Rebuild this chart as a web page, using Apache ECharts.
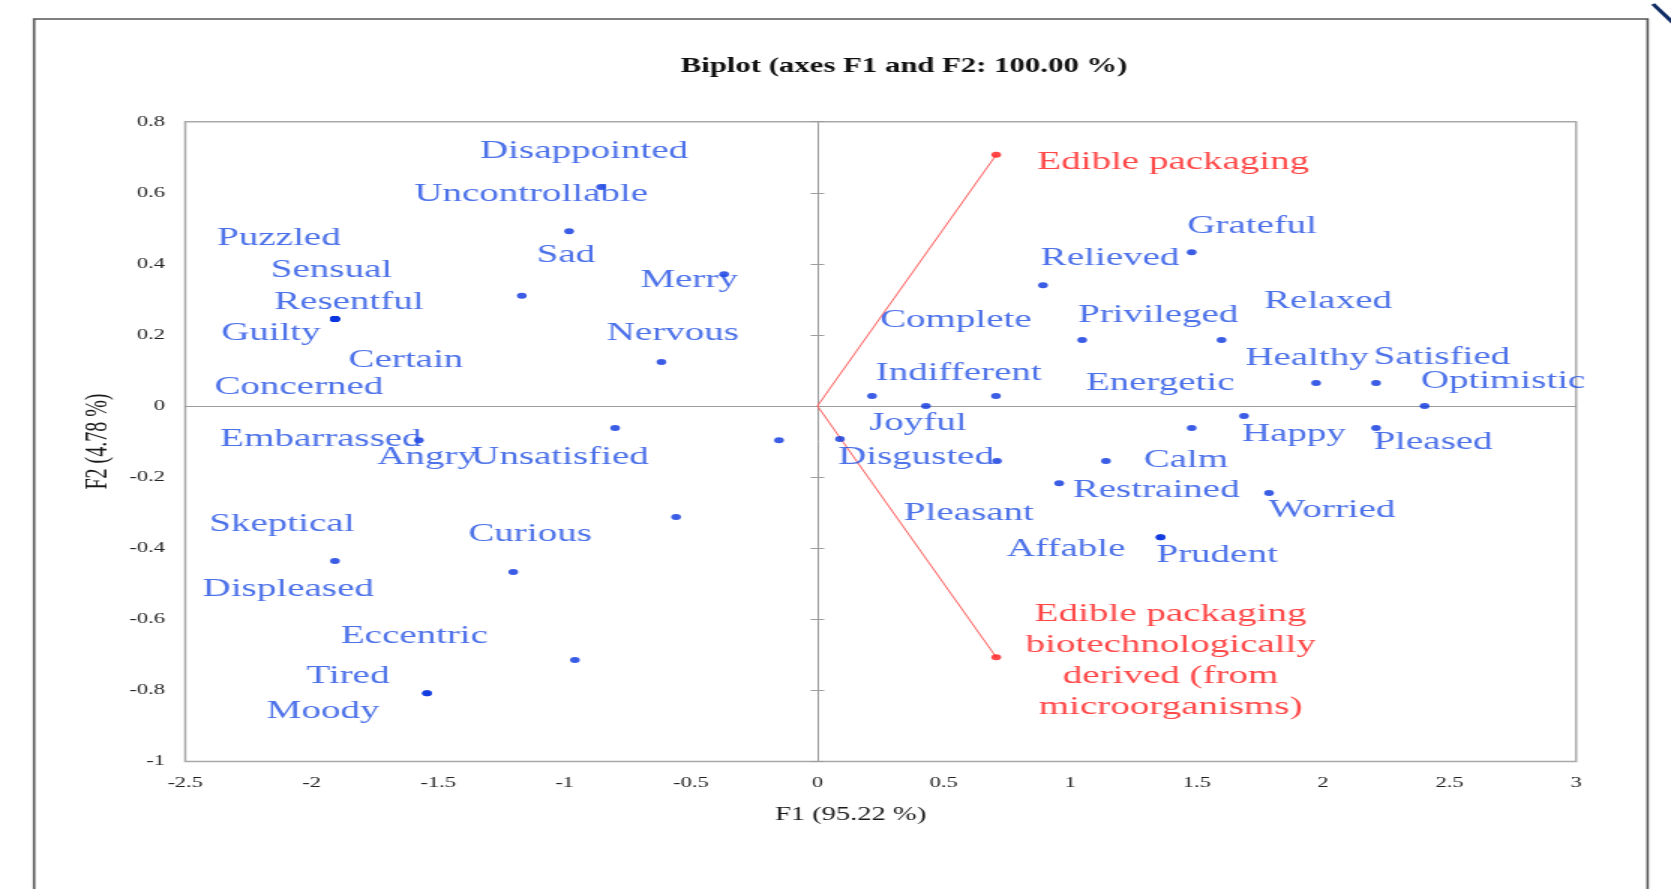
<!DOCTYPE html>
<html>
<head>
<meta charset="utf-8">
<script src="https://cdn.jsdelivr.net/npm/echarts@6/dist/echarts.min.js"></script>
<style>
  html, body { margin: 0; padding: 0; background: #ffffff; overflow: hidden; }
  #wrap { width: 1671px; height: 889px; overflow: hidden; position: relative; background: #fff; }
  /* the reference picture is stretched horizontally by about 1.5x */
  #chart { width: 1114px; height: 889px; transform: scaleX(1.5); transform-origin: 0 0; }
</style>
</head>
<body>
<div id="wrap"><div id="chart"></div></div>
<script>
// ---------------- DATA ----------------
const titleText = 'Biplot (axes F1 and F2: 100.00 %)';
const f1AxisName = 'F1 (95.22 %)';
const f2AxisName = 'F2 (4.78 %)';
const f1Min = -2.5, f1Max = 3, f1Step = 0.5;
const f2Min = -1, f2Max = 0.8, f2Step = 0.2;

const emotions = [
  'Disappointed', 'Uncontrollable', 'Sad', 'Merry', 'Puzzled', 'Sensual', 'Resentful',
  'Guilty', 'Certain', 'Concerned', 'Nervous', 'Embarrassed', 'Angry', 'Unsatisfied',
  'Curious', 'Skeptical', 'Displeased', 'Eccentric', 'Tired', 'Moody',
  'Disgusted', 'Indifferent', 'Joyful', 'Complete', 'Pleasant', 'Relieved', 'Grateful',
  'Privileged', 'Relaxed', 'Healthy', 'Satisfied', 'Optimistic', 'Happy', 'Energetic',
  'Pleased', 'Calm', 'Restrained', 'Worried', 'Prudent', 'Affable'
];
const emotionF1 = [
  -0.856, -0.982, -1.169, -0.369, -1.908, -1.908, -1.908,
  -1.908, -1.908, -1.908, -0.617, -1.576, -0.800, -0.152,
  -0.559, -1.908, -1.203, -0.959, -1.544, -1.544,
  0.089, 0.216, 0.429, 0.706, 0.710, 0.892, 1.480,
  1.047, 1.598, 1.972, 2.209, 2.401, 1.687, 1.480,
  2.209, 1.141, 0.956, 1.786, 1.357, 1.357
];
const emotionF2 = [
  0.616, 0.492, 0.310, 0.371, 0.245, 0.245, 0.245,
  0.245, 0.245, 0.245, 0.124, -0.096, -0.062, -0.096,
  -0.312, -0.436, -0.467, -0.715, -0.808, -0.808,
  -0.093, 0.028, 0.000, 0.028, -0.155, 0.340, 0.433,
  0.186, 0.186, 0.065, 0.065, 0.000, -0.028, -0.062,
  -0.062, -0.155, -0.217, -0.245, -0.369, -0.369
];

const products = ['Edible packaging', 'Edible packaging\nbiotechnologically\nderived (from\nmicroorganisms)'];
const productF1 = [0.707, 0.707];
const productF2 = [0.707, -0.707];

// ---------------- LAYOUT (label offsets in px, not data) ----------------
const emotionLabelOffsets = [
  [-11.3, -36], [-25.3, -37], [29.3, -41], [-23.3, 6], [-37.3, -81], [-2.3, -49], [9.3, -17],
  [-42.7, 14], [47.3, 41], [-24, 68], [7.7, -29], [-65.3, -1], [-125.3, 29], [-146, 17],
  [-97.3, 17], [-35.3, -37], [-150, 17], [-107, -24], [-52.7, -17], [-69.3, 18],
  [50.7, 18], [57.7, -23], [-5.3, 17], [-26.7, -76], [-18.7, 52], [44.7, -27], [40.3, -26],
  [50.7, -25], [71, -39], [-6, -25], [44, -26], [52.3, -25], [33.3, 18], [-21, -45],
  [38, 14], [53.3, -1], [64.7, 7], [42, 17], [37.7, 18], [-63, 12]
];
const productLabelOffsets = [[118, 7], [116.3, 3.5]];

// ---------------- CHART ----------------
const FONT = "'Liberation Serif', 'Times New Roman', serif";
const BLUE_TEXT = '#214fe4';
const BLUE_DOT = '#0a34de';
const RED = '#ff1a1a';
const GRAY = '#9c9c9c';

const chart = echarts.init(document.getElementById('chart'), null, { renderer: 'canvas' });

const emotionData = emotions.map((n, i) => ({
  name: n,
  value: [emotionF1[i], emotionF2[i]],
  label: { offset: emotionLabelOffsets[i] }
}));
const productData = products.map((n, i) => ({
  name: n,
  value: [productF1[i], productF2[i]],
  label: { offset: productLabelOffsets[i] }
}));
const vectorSeries = products.map((n, i) => ({
  type: 'line',
  xAxisIndex: 0, yAxisIndex: 0,
  data: [[0, 0], [productF1[i], productF2[i]]],
  symbol: 'none',
  silent: true,
  animation: false,
  lineStyle: { color: '#ff5c5c', width: 1 },
  z: 3
}));

const baseX = { type: 'value', min: f1Min, max: f1Max, interval: f1Step, splitLine: { show: false } };
const baseY = { type: 'value', min: f2Min, max: f2Max, interval: f2Step, splitLine: { show: false } };

chart.setOption({
  backgroundColor: '#ffffff',
  animation: false,
  title: {
    text: titleText,
    left: 602.7,
    top: 56,
    padding: 0,
    textAlign: 'center',
    textStyle: { fontFamily: FONT, fontWeight: 'bold', fontSize: 20.5, color: '#111' }
  },
  grid: {
    left: 123.5, right: 63.3, top: 121.7, bottom: 127.6,
    show: true, borderColor: '#a9a9a9', borderWidth: 1.5, backgroundColor: 'transparent'
  },
  xAxis: [
    Object.assign({}, baseX, {
      position: 'bottom',
      axisLine: { show: false, onZero: false },
      axisTick: { show: false },
      axisLabel: { fontFamily: FONT, fontSize: 15, color: '#222', margin: 14 },
      name: f1AxisName,
      nameLocation: 'middle',
      nameGap: 44,
      nameTextStyle: { fontFamily: FONT, fontSize: 19, color: '#1a1a1a', padding: [0, 40, 0, 0] }
    }),
    Object.assign({}, baseX, {
      axisLine: { show: true, onZero: true, onZeroAxisIndex: 0, lineStyle: { color: GRAY, width: 1 } },
      axisTick: { show: false },
      axisLabel: { show: false }
    })
  ],
  yAxis: [
    Object.assign({}, baseY, {
      position: 'left',
      axisLine: { show: false, onZero: false },
      axisTick: { show: false },
      axisLabel: { fontFamily: FONT, fontSize: 15, color: '#222', margin: 13.5 },
      name: f2AxisName,
      nameLocation: 'middle',
      nameGap: 42.5,
      nameRotate: 90,
      nameTextStyle: { fontFamily: FONT, fontSize: 20, color: '#1a1a1a' }
    }),
    Object.assign({}, baseY, {
      position: 'left',
      axisLine: { show: true, onZero: true, onZeroAxisIndex: 0, lineStyle: { color: GRAY, width: 1 } },
      axisTick: { show: true, inside: false, length: 4.5, lineStyle: { color: GRAY, width: 1 } },
      axisLabel: { show: false }
    }),
    Object.assign({}, baseY, {
      position: 'left',
      axisLine: { show: false, onZero: true, onZeroAxisIndex: 0 },
      axisTick: { show: true, inside: true, length: 4.5, lineStyle: { color: GRAY, width: 1 } },
      axisLabel: { show: false }
    })
  ],
  graphic: [
    {
      type: 'rect', silent: true, z: 100,
      shape: { x: 22.7, y: 19, width: 1075.7, height: 900 },
      style: { fill: 'transparent', stroke: '#555555', lineWidth: 1.6 }
    },
    {
      type: 'line', silent: true, z: 100,
      shape: { x1: 1102, y1: 4, x2: 1122, y2: 32 },
      style: { stroke: '#0d2a63', lineWidth: 3 }
    }
  ],
  series: vectorSeries.concat([
    {
      type: 'scatter',
      name: 'Emotions',
      xAxisIndex: 0, yAxisIndex: 0,
      data: emotionData,
      symbol: 'circle',
      symbolSize: [6.5, 6],
      itemStyle: { color: BLUE_DOT },
      label: {
        show: true,
        position: 'inside',
        formatter: '{b}',
        fontFamily: FONT,
        fontSize: 26,
        color: BLUE_TEXT
      },
      z: 4
    },
    {
      type: 'scatter',
      name: 'Products',
      xAxisIndex: 0, yAxisIndex: 0,
      data: productData,
      symbol: 'circle',
      symbolSize: [6.5, 6],
      itemStyle: { color: RED },
      label: {
        show: true,
        position: 'inside',
        formatter: '{b}',
        fontFamily: FONT,
        fontSize: 26,
        lineHeight: 31,
        align: 'center',
        color: RED
      },
      z: 5
    }
  ])
});
</script>
</body>
</html>
